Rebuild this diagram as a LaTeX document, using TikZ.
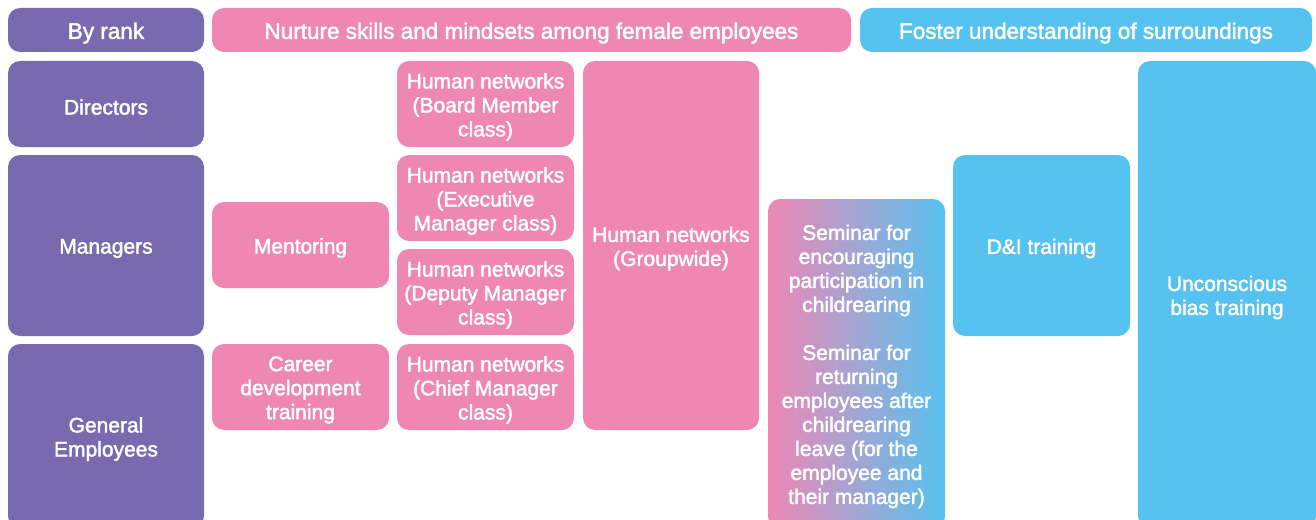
\documentclass[tikz,border=0pt]{standalone}
\usepackage{fontspec}
\setmainfont{Liberation Sans}
\newfontfamily\cellfont{Liberation Sans}[RawFeature={embolden=2}]
\usetikzlibrary{positioning}
\definecolor{rkpurple}{HTML}{786AAE}
\definecolor{nupink}{HTML}{EE88B3}
\definecolor{fsblue}{HTML}{56C2F0}
\tikzset{
  cell/.style={rectangle, rounded corners=12pt, inner sep=0pt},
  celltext/.style={align=center, text=white, inner sep=0pt, yshift=-3pt, font=\cellfont\fontsize{21}{24}\selectfont},
  txt/.style={label={[celltext]center:{#1}}},
  headtxt/.style={label={[celltext, font=\cellfont\fontsize{22.5}{24}\selectfont]center:{#1}}, minimum height=44pt},
  rkbox/.style={cell, fill=rkpurple, minimum width=196pt},
  nubox/.style={cell, fill=nupink},
  fsbox/.style={cell, fill=fsblue},
  mixbox/.style={cell, left color=nupink, right color=fsblue}
}
\begin{document}
\begin{tikzpicture}[x=1pt, y=-1pt]
  \clip (0,0) rectangle (1316,519);
  % headers
  \node[rkbox, headtxt={By rank}] (rank) at (106,30) {};
  \node[nubox, minimum width=639pt, headtxt={Nurture skills and mindsets among female employees}] (nurture) at (531.5,30) {};
  \node[fsbox, minimum width=452pt, headtxt={Foster understanding of surroundings}] (foster) at (1086,30) {};
  % ranks
  \node[rkbox, minimum height=86pt, txt={Directors}] (dir) at (106,104) {};
  \node[rkbox, minimum height=181pt, txt={Managers}] (mgr) at (106,245.5) {};
  \node[rkbox, minimum height=184pt, txt={General\\Employees}] (gen) at (106,436) {};
  % nurture
  \node[nubox, minimum width=177pt, minimum height=86pt, txt={Mentoring}] (ment) at (300.5,245) {};
  \node[nubox, minimum width=177pt, minimum height=86pt, txt={Career\\development\\training}] (career) at (300.5,387) {};
  \node[nubox, minimum width=177pt, minimum height=86pt, txt={Human networks\\(Board Member\\class)}] (hnb) at (485.5,104) {};
  \node[nubox, minimum width=177pt, minimum height=86pt, txt={Human networks\\(Executive\\Manager class)}] (hne) at (485.5,198) {};
  \node[nubox, minimum width=177pt, minimum height=86pt, txt={Human networks\\(Deputy Manager\\class)}] (hnd) at (485.5,292) {};
  \node[nubox, minimum width=177pt, minimum height=86pt, txt={Human networks\\(Chief Manager\\class)}] (hnc) at (485.5,387) {};
  \node[nubox, minimum width=176pt, minimum height=369pt, txt={Human networks\\(Groupwide)}] (hng) at (671,245.5) {};
  % seminars
  \node[mixbox, minimum width=177pt, minimum height=329pt, txt={Seminar for\\encouraging\\participation in\\childrearing\\[24pt]Seminar for\\returning\\employees after\\childrearing\\leave (for the\\employee and\\their manager)}] (sem) at (856.5,363.5) {};
  % foster
  \node[fsbox, minimum width=177pt, minimum height=181pt, txt={D\&I training}] (dni) at (1041.5,245.5) {};
  \node[fsbox, minimum width=178pt, minimum height=467pt, txt={Unconscious\\bias training}] (ubt) at (1227,294.5) {};
\end{tikzpicture}
\end{document}
